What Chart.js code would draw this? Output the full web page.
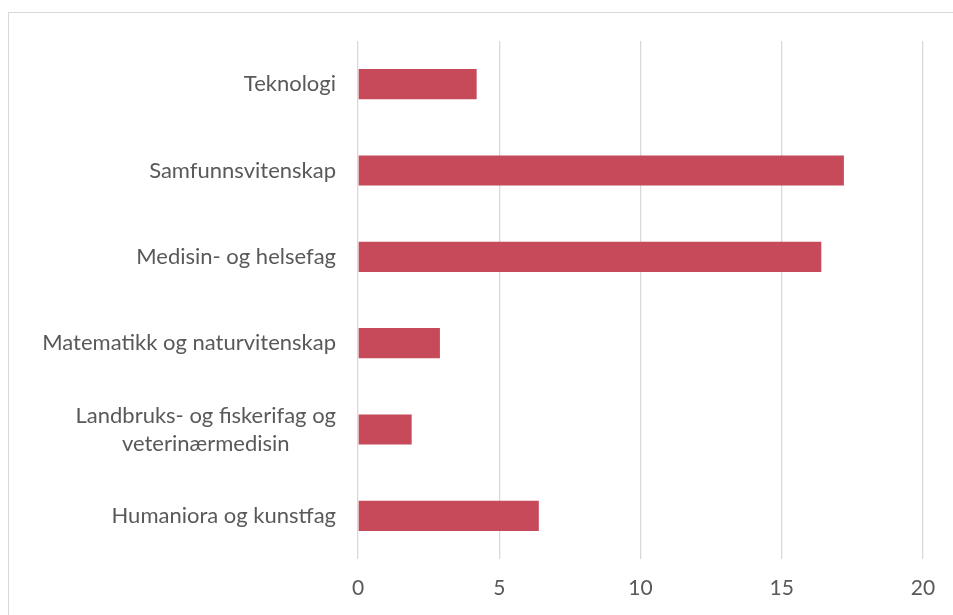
<!DOCTYPE html>
<html>
<head>
<meta charset="utf-8">
<script src="https://cdn.jsdelivr.net/npm/chart.js@4/dist/chart.umd.min.js"></script>
<style>
  html, body { margin: 0; padding: 0; background: #fff; }
  #wrap { position: relative; width: 953px; height: 615px; overflow: hidden; }
  #frame { position: absolute; left: 8px; top: 12px; width: 1000px; height: 700px;
           border-left: 1px solid #d9d9d9; border-top: 1px solid #d9d9d9; }
  canvas { position: absolute; left: 0; top: 0; }
</style>
</head>
<body>
<div id="wrap">
  <div id="frame"></div>
  <canvas id="chart" width="953" height="615"></canvas>
</div>
<script>
// top to bottom as shown
var categories = [
    'Teknologi',
    'Samfunnsvitenskap',
    'Medisin- og helsefag',
    'Matematikk og naturvitenskap',
    ['Landbruks- og fiskerifag og', 'veterinærmedisin'],
    'Humaniora og kunstfag'
];
var values = [4.2, 17.2, 16.4, 2.9, 1.9, 6.4];
var xTicks = [0, 5, 10, 15, 20];

var FONT = 'Lato, "Open Sans", sans-serif';
var TEXT = '#595959';

// Excel-style category labels: block right aligned, wrapped lines centred
var categoryLabels = {
    id: 'categoryLabels',
    afterDraw: function (chart) {
        var ctx = chart.ctx, y = chart.scales.y;
        ctx.save();
        ctx.font = '22px ' + FONT;
        ctx.fillStyle = TEXT;
        ctx.textBaseline = 'middle';
        var right = chart.chartArea.left - 22;
        categories.forEach(function (lab, i) {
            var lines = Array.isArray(lab) ? lab : [lab];
            var cy = y.getPixelForValue(i);
            var w = Math.max.apply(null, lines.map(function (l) { return ctx.measureText(l).width; }));
            var lh = 28;
            ctx.textAlign = 'center';
            lines.forEach(function (l, k) {
                ctx.fillText(l, right - w / 2, cy + (k - (lines.length - 1) / 2) * lh);
            });
        });
        ctx.restore();
    }
};

new Chart(document.getElementById('chart'), {
    type: 'bar',
    data: {
        labels: categories,
        datasets: [{
            data: values,
            backgroundColor: '#C64A5A',
            categoryPercentage: 1,
            barPercentage: 0.35
        }]
    },
    options: {
        indexAxis: 'y',
        responsive: false,
        animation: false,
        layout: { padding: { top: 41, right: 30, left: 0, bottom: 0 } },
        plugins: { legend: { display: false }, tooltip: { enabled: false } },
        scales: {
            x: {
                min: 0, max: 20,
                afterBuildTicks: function (s) { s.ticks = xTicks.map(function (v) { return { value: v }; }); },
                afterFit: function (s) { s.height = 56; },
                grid: { color: '#d9d9d9', lineWidth: 1.3, drawTicks: false },
                border: { display: false },
                ticks: { color: TEXT, font: { family: FONT, size: 21 }, padding: 17 }
            },
            y: {
                afterFit: function (s) { s.width = 358; },
                grid: { display: false },
                border: { display: false },
                ticks: { display: false }
            }
        }
    },
    plugins: [categoryLabels]
});
</script>
</body>
</html>
